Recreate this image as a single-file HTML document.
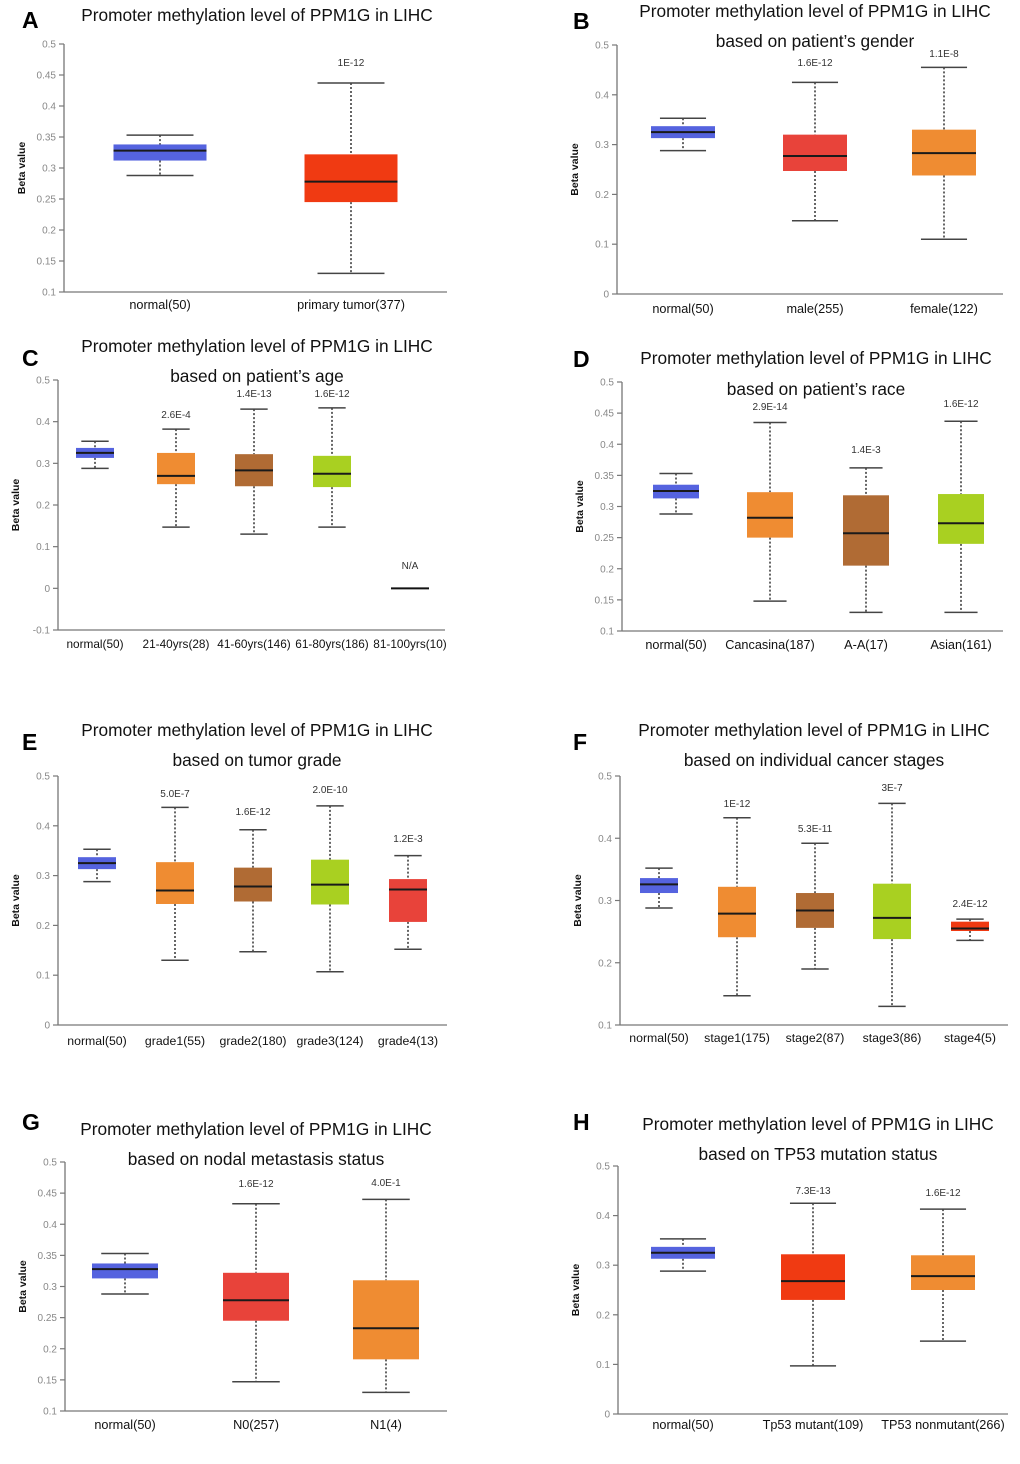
<!DOCTYPE html>
<html><head><meta charset="utf-8">
<style>
html,body{margin:0;padding:0;background:#fff;}
svg{display:block;font-family:"Liberation Sans",Arial,sans-serif;}
</style></head>
<body>
<svg id="fig" width="1020" height="1464" viewBox="0 0 1020 1464" xmlns="http://www.w3.org/2000/svg"></svg>
<script>
// ---------- DATA ----------
const aCats = ["normal(50)", "primary tumor(377)"];
const aMin = [0.288, 0.130];
const aQ1 = [0.312, 0.245];
const aMed = [0.328, 0.278];
const aQ3 = [0.338, 0.322];
const aMax = [0.353, 0.437];
const aP = ["", "1E-12"];
const aTicks = [0.1, 0.15, 0.2, 0.25, 0.3, 0.35, 0.4, 0.45, 0.5];

const bCats = ["normal(50)", "male(255)", "female(122)"];
const bMin = [0.288, 0.147, 0.110];
const bQ1 = [0.313, 0.247, 0.238];
const bMed = [0.325, 0.277, 0.283];
const bQ3 = [0.337, 0.320, 0.330];
const bMax = [0.353, 0.425, 0.455];
const bP = ["", "1.6E-12", "1.1E-8"];
const bTicks = [0, 0.1, 0.2, 0.3, 0.4, 0.5];

const cCats = ["normal(50)", "21-40yrs(28)", "41-60yrs(146)", "61-80yrs(186)", "81-100yrs(10)"];
const cMin = [0.288, 0.147, 0.130, 0.147, 0];
const cQ1 = [0.313, 0.250, 0.245, 0.243, 0];
const cMed = [0.325, 0.270, 0.283, 0.275, 0];
const cQ3 = [0.337, 0.325, 0.322, 0.318, 0];
const cMax = [0.353, 0.382, 0.430, 0.433, 0];
const cP = ["", "2.6E-4", "1.4E-13", "1.6E-12", "N/A"];
const cTicks = [-0.1, 0, 0.1, 0.2, 0.3, 0.4, 0.5];

const dCats = ["normal(50)", "Cancasina(187)", "A-A(17)", "Asian(161)"];
const dMin = [0.288, 0.148, 0.130, 0.130];
const dQ1 = [0.313, 0.250, 0.205, 0.240];
const dMed = [0.325, 0.282, 0.257, 0.273];
const dQ3 = [0.335, 0.323, 0.318, 0.320];
const dMax = [0.353, 0.435, 0.362, 0.437];
const dP = ["", "2.9E-14", "1.4E-3", "1.6E-12"];
const dTicks = [0.1, 0.15, 0.2, 0.25, 0.3, 0.35, 0.4, 0.45, 0.5];

const eCats = ["normal(50)", "grade1(55)", "grade2(180)", "grade3(124)", "grade4(13)"];
const eMin = [0.288, 0.130, 0.147, 0.107, 0.152];
const eQ1 = [0.313, 0.243, 0.248, 0.242, 0.207];
const eMed = [0.325, 0.270, 0.278, 0.282, 0.272];
const eQ3 = [0.337, 0.327, 0.316, 0.332, 0.293];
const eMax = [0.353, 0.437, 0.392, 0.440, 0.340];
const eP = ["", "5.0E-7", "1.6E-12", "2.0E-10", "1.2E-3"];
const eTicks = [0, 0.1, 0.2, 0.3, 0.4, 0.5];

const fCats = ["normal(50)", "stage1(175)", "stage2(87)", "stage3(86)", "stage4(5)"];
const fMin = [0.288, 0.147, 0.190, 0.130, 0.236];
const fQ1 = [0.312, 0.241, 0.256, 0.238, 0.251];
const fMed = [0.326, 0.279, 0.284, 0.272, 0.255];
const fQ3 = [0.336, 0.322, 0.312, 0.327, 0.266];
const fMax = [0.352, 0.433, 0.392, 0.456, 0.270];
const fP = ["", "1E-12", "5.3E-11", "3E-7", "2.4E-12"];
const fTicks = [0.1, 0.2, 0.3, 0.4, 0.5];

const gCats = ["normal(50)", "N0(257)", "N1(4)"];
const gMin = [0.288, 0.147, 0.130];
const gQ1 = [0.313, 0.245, 0.183];
const gMed = [0.328, 0.278, 0.233];
const gQ3 = [0.337, 0.322, 0.310];
const gMax = [0.353, 0.433, 0.440];
const gP = ["", "1.6E-12", "4.0E-1"];
const gTicks = [0.1, 0.15, 0.2, 0.25, 0.3, 0.35, 0.4, 0.45, 0.5];

const hCats = ["normal(50)", "Tp53 mutant(109)", "TP53 nonmutant(266)"];
const hMin = [0.288, 0.097, 0.147];
const hQ1 = [0.313, 0.230, 0.250];
const hMed = [0.325, 0.268, 0.278];
const hQ3 = [0.337, 0.322, 0.320];
const hMax = [0.353, 0.425, 0.413];
const hP = ["", "7.3E-13", "1.6E-12"];
const hTicks = [0, 0.1, 0.2, 0.3, 0.4, 0.5];

// ---------- LAYOUT ----------
const BLUE="#5563df", RED="#f03a12", RED2="#e8433a", ORG="#ef8c32", BRN="#b06b34", LIME="#a9d021";
const panels = [
 {id:"a",L:"A",lx:22,ly:28,t1:"Promoter methylation level of PPM1G in LIHC",t2:"",tx:257,ty1:21,ty2:0,lfs:12.7,
  ax:64,axEnd:447,yTop:44,yBot:292,vTop:0.5,vBot:0.1,cx:[160,351],bw:93,pY:[0,66],labY:309,colors:[BLUE,RED],
  cats:aCats,mn:aMin,q1:aQ1,md:aMed,q3:aQ3,mx:aMax,p:aP,ticks:aTicks},
 {id:"b",L:"B",lx:573,ly:29,t1:"Promoter methylation level of PPM1G in LIHC",t2:"based on patient\u2019s gender",tx:815,ty1:17,ty2:47,lfs:12.7,
  ax:617,axEnd:1003,yTop:45,yBot:294,vTop:0.5,vBot:0,cx:[683,815,944],bw:64,pY:[0,66,57],labY:313,colors:[BLUE,RED2,ORG],
  cats:bCats,mn:bMin,q1:bQ1,md:bMed,q3:bQ3,mx:bMax,p:bP,ticks:bTicks},
 {id:"c",L:"C",lx:22,ly:366,t1:"Promoter methylation level of PPM1G in LIHC",t2:"based on patient\u2019s age",tx:257,ty1:352,ty2:382,lfs:11.8,
  ax:58,axEnd:445,yTop:380,yBot:630,vTop:0.5,vBot:-0.1,cx:[95,176,254,332,410],bw:38,pY:[0,418,397,397,569],labY:648,colors:[BLUE,ORG,BRN,LIME,"#000"],
  cats:cCats,mn:cMin,q1:cQ1,md:cMed,q3:cQ3,mx:cMax,p:cP,ticks:cTicks},
 {id:"d",L:"D",lx:573,ly:367,t1:"Promoter methylation level of PPM1G in LIHC",t2:"based on patient\u2019s race",tx:816,ty1:364,ty2:395,lfs:12.7,
  ax:622,axEnd:1003,yTop:382,yBot:631,vTop:0.5,vBot:0.1,cx:[676,770,866,961],bw:46,pY:[0,410,453,407],labY:649,colors:[BLUE,ORG,BRN,LIME],
  cats:dCats,mn:dMin,q1:dQ1,md:dMed,q3:dQ3,mx:dMax,p:dP,ticks:dTicks},
 {id:"e",L:"E",lx:22,ly:750,t1:"Promoter methylation level of PPM1G in LIHC",t2:"based on tumor grade",tx:257,ty1:736,ty2:766,lfs:12.3,
  ax:58,axEnd:447,yTop:776,yBot:1025,vTop:0.5,vBot:0,cx:[97,175,253,330,408],bw:38,pY:[0,797,815,793,842],labY:1045,colors:[BLUE,ORG,BRN,LIME,RED2],
  cats:eCats,mn:eMin,q1:eQ1,md:eMed,q3:eQ3,mx:eMax,p:eP,ticks:eTicks},
 {id:"f",L:"F",lx:573,ly:750,t1:"Promoter methylation level of PPM1G in LIHC",t2:"based on individual cancer stages",tx:814,ty1:736,ty2:766,lfs:12.3,
  ax:620,axEnd:1008,yTop:776,yBot:1025,vTop:0.5,vBot:0.1,cx:[659,737,815,892,970],bw:38,pY:[0,807,832,791,907],labY:1042,colors:[BLUE,ORG,BRN,LIME,RED],
  cats:fCats,mn:fMin,q1:fQ1,md:fMed,q3:fQ3,mx:fMax,p:fP,ticks:fTicks},
 {id:"g",L:"G",lx:22,ly:1130,t1:"Promoter methylation level of PPM1G in LIHC",t2:"based on nodal metastasis status",tx:256,ty1:1135,ty2:1165,lfs:12.7,
  ax:65,axEnd:447,yTop:1162,yBot:1411,vTop:0.5,vBot:0.1,cx:[125,256,386],bw:66,pY:[0,1187,1186],labY:1429,colors:[BLUE,RED2,ORG],
  cats:gCats,mn:gMin,q1:gQ1,md:gMed,q3:gQ3,mx:gMax,p:gP,ticks:gTicks},
 {id:"h",L:"H",lx:573,ly:1130,t1:"Promoter methylation level of PPM1G in LIHC",t2:"based on TP53 mutation status",tx:818,ty1:1130,ty2:1160,lfs:12.7,
  ax:618,axEnd:1008,yTop:1166,yBot:1414,vTop:0.5,vBot:0,cx:[683,813,943],bw:64,pY:[0,1194,1196],labY:1429,colors:[BLUE,RED,ORG],
  cats:hCats,mn:hMin,q1:hQ1,md:hMed,q3:hQ3,mx:hMax,p:hP,ticks:hTicks}
];

const NS="http://www.w3.org/2000/svg";
const svg=document.getElementById("fig");
function mk(tag,attrs,parent,text){
  const e=document.createElementNS(NS,tag);
  for(const k in attrs) e.setAttribute(k,attrs[k]);
  if(text!==undefined) e.textContent=text;
  parent.appendChild(e); return e;
}
panels.forEach(P=>{
  const g=mk("g",{},svg);
  
  
  const y=v=>P.yBot-(v-P.vBot)/(P.vTop-P.vBot)*(P.yBot-P.yTop);
  const lt=mk("text",{x:P.lx,y:P.ly,"font-size":23,"font-weight":"bold",fill:"#000"},g,P.L);
  
  
  const t1=mk("text",{x:P.tx,y:P.ty1,"font-size":17.3,"text-anchor":"middle",fill:"#111"},g,P.t1);
  
  
  if(P.t2){
    const t2=mk("text",{x:P.tx,y:P.ty2,"font-size":17.3,"text-anchor":"middle",fill:"#111"},g,P.t2);
    
    
  }
  const ya=mk("line",{x1:P.ax,y1:P.yTop,x2:P.ax,y2:P.yBot,stroke:"#777","stroke-width":1.3},g);
  
  
  const xa=mk("line",{x1:P.ax,y1:P.yBot,x2:P.axEnd,y2:P.yBot,stroke:"#777","stroke-width":1.3},g);
  
  
  P.ticks.forEach(t=>{
    const ty=y(t);
    const tk=mk("line",{x1:P.ax-5,y1:ty,x2:P.ax,y2:ty,stroke:"#777","stroke-width":1.2},g);
    
    
    const tl=mk("text",{x:P.ax-8,y:ty+3.5,"font-size":10,"text-anchor":"end",fill:"#888"},g,String(t));
    
    
  });
  const yl=mk("text",{x:0,y:0,"font-size":10.5,"font-weight":"bold","text-anchor":"middle",fill:"#111",
    transform:`translate(${P.ax-39},${(P.yTop+P.yBot)/2}) rotate(-90)`},g,"Beta value");
  
  
  P.cats.forEach((c,i)=>{
    const cx=P.cx[i], hw=P.bw/2;
    const cl=mk("text",{x:cx,y:P.labY,"font-size":P.lfs,"text-anchor":"middle",fill:"#111"},g,c);
    
    
    if(P.p[i]){
      const pl=mk("text",{x:cx,y:P.pY[i],"font-size":10,"text-anchor":"middle",fill:"#333"},g,P.p[i]);
      
      
    }
    const bg=mk("g",{},g);
    
    
    if(P.mx[i]===P.mn[i]){
      mk("line",{x1:cx-hw,y1:y(P.md[i]),x2:cx+hw,y2:y(P.md[i]),stroke:"#111","stroke-width":2},bg);
      return;
    }
    const capW=Math.min(hw*0.72,34);
    mk("line",{x1:cx,y1:y(P.mx[i]),x2:cx,y2:y(P.q3[i]),stroke:"#333","stroke-width":1.5,"stroke-dasharray":"2,2"},bg);
    mk("line",{x1:cx,y1:y(P.q1[i]),x2:cx,y2:y(P.mn[i]),stroke:"#333","stroke-width":1.5,"stroke-dasharray":"2,2"},bg);
    mk("line",{x1:cx-capW,y1:y(P.mx[i]),x2:cx+capW,y2:y(P.mx[i]),stroke:"#444","stroke-width":1.5},bg);
    mk("line",{x1:cx-capW,y1:y(P.mn[i]),x2:cx+capW,y2:y(P.mn[i]),stroke:"#444","stroke-width":1.5},bg);
    mk("rect",{x:cx-hw,y:y(P.q3[i]),width:P.bw,height:y(P.q1[i])-y(P.q3[i]),fill:P.colors[i]},bg);
    mk("line",{x1:cx-hw,y1:y(P.md[i]),x2:cx+hw,y2:y(P.md[i]),stroke:"#1a1a1a","stroke-width":2},bg);
  });
});
</script>
</body></html>
